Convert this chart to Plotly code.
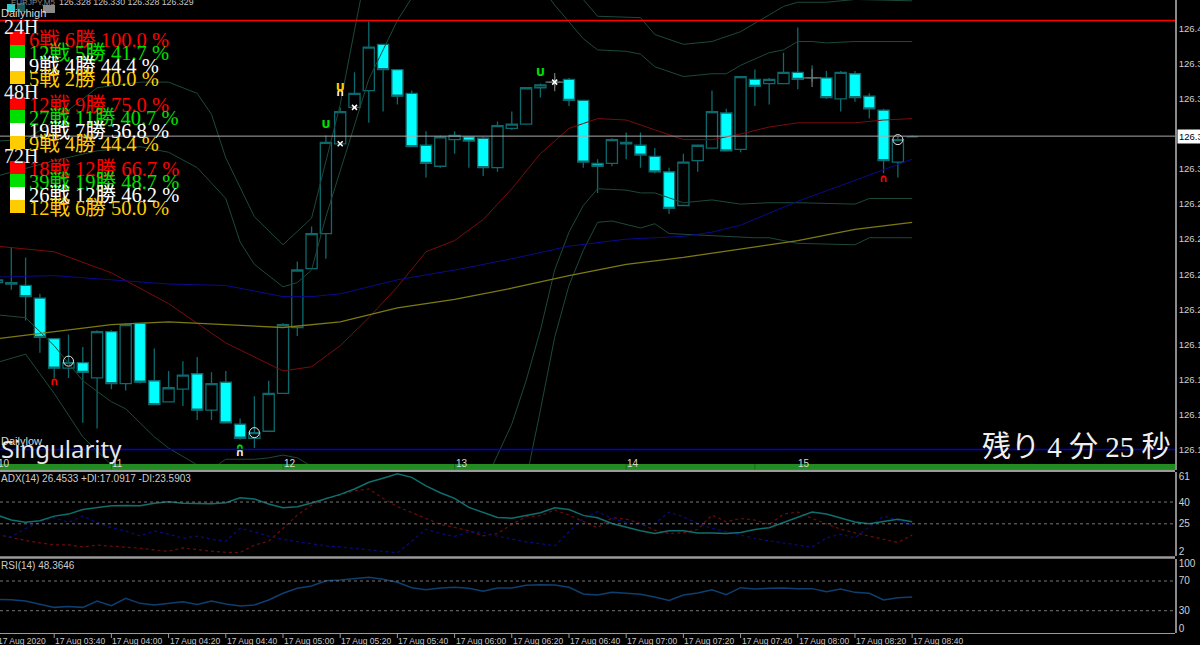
import plotly.graph_objects as go

W = 1200
H = 645

# bar values, one per 5 minute bar starting at 03:20
open_ = [126.219,126.219,126.217,126.208,126.179,126.158,126.162,126.151,126.184,126.147,126.190,126.149,126.134,126.143,126.154,126.128,126.148,126.118,126.108,126.113,126.140,126.187,126.229,126.254,126.318,126.344,126.356,126.389,126.371,126.354,126.317,126.302,126.321,126.323,126.322,126.301,126.329,126.332,126.358,126.362,126.364,126.349,126.304,126.304,126.319,126.317,126.309,126.298,126.274,126.306,126.315,126.340,126.314,126.364,126.361,126.361,126.369,126.365,126.365,126.350,126.368,126.352,126.342,126.305,126.323]
high = [126.222,126.244,126.237,126.211,126.179,126.182,126.173,126.185,126.185,126.190,126.190,126.172,126.156,126.163,126.166,126.155,126.156,126.122,126.138,126.149,126.190,126.234,126.259,126.324,126.344,126.369,126.406,126.389,126.371,126.356,126.327,126.324,126.327,126.323,126.323,126.334,126.341,126.358,126.361,126.366,126.365,126.349,126.307,126.322,126.326,126.326,126.315,126.301,126.311,126.317,126.356,126.343,126.366,126.371,126.365,126.383,126.401,126.374,126.370,126.370,126.370,126.354,126.343,126.323,126.324]
low = [126.217,126.214,126.192,126.169,126.151,126.151,126.119,126.115,126.143,126.142,126.147,126.132,126.134,126.131,126.121,126.121,126.119,126.107,126.101,126.113,126.140,126.181,126.229,126.236,126.318,126.344,126.333,126.341,126.346,126.316,126.294,126.301,126.311,126.301,126.295,126.298,126.328,126.332,126.351,126.358,126.345,126.301,126.283,126.302,126.307,126.301,126.297,126.268,126.274,126.298,126.315,126.313,126.312,126.345,126.346,126.361,126.357,126.362,126.350,126.341,126.348,126.336,126.297,126.294,126.323]
close = [126.221,126.218,126.209,126.180,126.158,126.162,126.155,126.184,126.147,126.189,126.148,126.132,126.144,126.153,126.128,126.147,126.119,126.108,126.112,126.140,126.189,126.228,126.254,126.319,126.341,126.354,126.387,126.371,126.352,126.316,126.304,126.323,126.324,126.320,126.301,126.331,126.332,126.358,126.360,126.362,126.349,126.305,126.302,126.321,126.318,126.310,126.298,126.272,126.305,126.317,126.341,126.313,126.366,126.359,126.364,126.369,126.364,126.365,126.351,126.369,126.351,126.343,126.306,126.321,126.323]
bar_no = list(range(len(close)))

# moving averages and bands, read at the bars where they bend
red_bars = [0,4,8,12,16,20,22,24,26,28,30,32,34,36,38,40,42,44,46,48,50,52,54,56,60,62,64]
red_ma = [126.245,126.241,126.226,126.204,126.176,126.156,126.159,126.174,126.194,126.216,126.241,126.249,126.264,126.286,126.311,126.329,126.336,126.335,126.328,126.321,126.321,126.325,126.330,126.333,126.333,126.335,126.336]
blue_bars = [0,4,8,12,16,18,20,22,24,28,32,36,40,44,48,50,52,56,60,64]
blue_ma = [126.223,126.224,126.221,126.218,126.217,126.213,126.209,126.209,126.211,126.221,126.228,126.236,126.245,126.250,126.252,126.255,126.260,126.277,126.292,126.307]
olive_bars = [0,4,8,12,16,20,24,28,32,36,40,44,48,52,56,60,64]
olive_ma = [126.179,126.184,126.189,126.191,126.189,126.187,126.191,126.201,126.207,126.215,126.224,126.232,126.237,126.243,126.249,126.257,126.262]

band_out_up_bars = [0,2,4,7,10,12,14,15,16,18,19,20,22,24,25,26,28,36,40,41,42,45,46,48,50,52,54,55,56,58,60,64]
band_out_up = [126.320,126.321,126.334,126.358,126.362,126.362,126.354,126.339,126.308,126.266,126.256,126.246,126.265,126.346,126.399,126.451,126.492,126.492,126.449,126.421,126.409,126.408,126.396,126.389,126.391,126.398,126.410,126.416,126.419,126.419,126.421,126.420]
band_in_up_bars = [0,4,7,10,12,14,16,17,18,20,21,22,23,24,25,26,28,29,30,36,38,39,40,41,42,44,45,46,48,50,51,52,54,55,56,57,58,60,64]
band_in_up = [126.295,126.306,126.313,126.316,126.312,126.301,126.279,126.248,126.232,126.216,126.219,126.228,126.266,126.299,126.331,126.364,126.406,126.422,126.435,126.463,126.431,126.417,126.405,126.393,126.385,126.384,126.382,126.373,126.366,126.368,126.368,126.374,126.383,126.385,126.391,126.391,126.390,126.391,126.391]
band_in_dn_bars = [0,2,4,6,8,9,11,12,14,15,16,18,19,20,21,22,24,28,32,34,35,36,37,38,39,40,41,42,44,45,46,48,50,52,54,56,60,61,64]
band_in_dn = [126.196,126.194,126.174,126.149,126.134,126.129,126.109,126.101,126.089,126.086,126.093,126.093,126.094,126.096,126.094,126.088,126.056,126.021,126.035,126.074,126.096,126.118,126.149,126.185,126.228,126.255,126.274,126.286,126.285,126.283,126.283,126.276,126.278,126.275,126.276,126.276,126.275,126.279,126.279]
band_out_dn_bars = [0,2,3,4,6,8,10,16,24,30,34,37,38,39,40,41,42,43,45,46,47,49,52,53,54,56,60,61,64]
band_out_dn = [126.162,126.168,126.154,126.140,126.109,126.089,126.056,125.992,125.964,125.964,125.992,126.078,126.128,126.180,126.217,126.242,126.262,126.263,126.258,126.261,126.254,126.253,126.251,126.251,126.251,126.247,126.246,126.251,126.251]

# ADX(14) pane
adx = [31.0,27.6,26.0,27.1,30.3,31.7,34.9,36.3,37.5,37.7,37.5,39.1,40.2,39.1,38.8,38.8,39.5,43.0,42.1,38.6,36.1,36.8,39.3,42.3,45.3,49.0,53.6,56.4,59.4,57.0,51.1,46.4,42.5,36.3,32.6,29.4,28.9,30.6,32.6,36.1,34.9,30.8,29.2,25.2,22.5,20.2,18.3,20.2,20.2,18.6,18.6,18.3,19.0,21.1,22.3,26.0,29.9,33.1,31.7,28.7,26.2,25.0,26.6,28.2,26.4]
plus_di = [17.6,15.3,13.5,11.9,10.5,10.5,9.1,10.3,9.6,9.1,8.2,7.0,6.1,8.4,7.0,6.1,5.4,5.2,10.3,13.0,21.8,31.0,37.9,42.5,44.8,47.8,49.0,42.5,36.8,32.9,28.7,24.6,22.5,20.2,16.7,18.3,24.6,29.9,30.6,34.5,31.0,26.4,22.3,29.2,28.2,25.2,20.6,18.3,18.8,21.1,31.0,26.4,28.7,27.6,24.6,31.7,33.1,28.7,25.2,21.3,18.8,16.5,14.4,12.1,17.2]
minus_di = [17.6,16.0,21.8,26.4,29.2,26.0,30.3,26.0,22.3,20.0,16.7,20.0,17.9,14.9,16.5,14.4,13.0,21.8,19.5,16.5,14.2,12.6,11.2,9.8,9.1,8.0,6.8,6.1,5.0,13.0,21.3,18.3,16.3,19.5,19.0,16.5,14.4,12.6,11.4,9.8,19.5,28.7,33.3,28.7,26.0,24.6,25.2,33.1,29.9,25.2,21.8,19.5,17.2,14.9,13.3,11.9,10.3,8.9,15.3,17.9,15.3,22.9,30.3,27.6,24.1]

# RSI(14) pane
rsi = [45.3,44.8,43.0,38.5,34.5,35.8,34.5,43.0,36.7,46.6,39.9,37.6,40.3,42.1,38.5,43.0,39.0,36.3,37.6,44.4,53.4,60.1,63.3,70.4,71.3,72.7,74.9,72.2,68.2,61.0,58.3,60.6,61.5,60.1,56.1,60.6,60.6,64.2,65.1,64.6,61.5,52.5,51.1,54.7,53.8,52.0,48.4,43.9,51.1,53.8,58.3,51.6,61.0,59.2,60.1,60.6,59.7,59.7,55.6,59.2,54.7,53.4,44.4,47.5,48.4]

# horizontal levels
day_high = 126.406
day_low = 126.100
last_price = 126.3235

# axis ticks
price_ticks = [126.400,126.375,126.350,126.300,126.275,126.250,126.225,126.200,126.175,126.150,126.125,126.100]
price_labels = ['126.4','126.3','126.3','126.3','126.2','126.2','126.2','126.2','126.1','126.1','126.1','126.1']
adx_ticks = [57.3,40,25,5.9]
adx_labels = ['61','40','25','2']
rsi_ticks = [93.3,70,30,6.7]
rsi_labels = ['100','70','30','0']
time_bars = list(range(4,65,4))
time_labels = ['17 Aug 03:40','17 Aug 04:00','17 Aug 04:20','17 Aug 04:40','17 Aug 05:00','17 Aug 05:20','17 Aug 05:40','17 Aug 06:00','17 Aug 06:20','17 Aug 06:40','17 Aug 07:00','17 Aug 07:20','17 Aug 07:40','17 Aug 08:00','17 Aug 08:20','17 Aug 08:40']
day_tick_bars = [8,20,32,44,53]
day_label_bars = [0.5,8.4,20.5,32.5,44.5,56.4]
day_labels = ['10','11','12','13','14','15']

# signal marks on the price pane
red_arc_bars = [4,62]
red_arc_prices = [126.148,126.293]
green_arc_bars = [17]
green_arc_prices = [126.101]
white_arc_bars = [17,24]
white_arc_prices = [126.097,126.354]
green_u_bars = [23,38]
green_u_prices = [126.331,126.368]
yellow_u_bars = [24]
yellow_u_prices = [126.358]
circle_bars = [5,18,63]
circle_prices = [126.163,126.112,126.321]
cross_bars = [24,25,39]
cross_prices = [126.318,126.344,126.362]
gray_cross_bars = [39,57]
gray_cross_prices = [126.362,126.365]

# win rate panel
panel_titles = ['24H','48H','72H']
panel_rows = [
    ['6戦 6勝 100.0 %','12戦 5勝 41.7 %','9戦 4勝 44.4 %','5戦 2勝 40.0 %'],
    ['12戦 9勝 75.0 %','27戦 11勝 40.7 %','19戦 7勝 36.8 %','9戦 4勝 44.4 %'],
    ['18戦 12勝 66.7 %','39戦 19勝 48.7 %','26戦 12勝 46.2 %','12戦 6勝 50.0 %'],
]
row_colors = ['#ff0000','#00e000','#ffffff','#ffcc00']
panel_tops = [32,97,161]


def px(x):
    return x / W


def py(y):
    return 1 - y / H


def label(text, x, y, size, color='#cccccc', font='Liberation Sans', anchor='left'):
    return dict(text=text, x=px(x), y=py(y), xref='paper', yref='paper', xanchor=anchor, yanchor='middle',
                showarrow=False, borderpad=0, font=dict(family=font, size=size, color=color))


def box(x0, y0, x1, y1, color):
    return dict(type='rect', xref='paper', yref='paper', x0=px(x0), x1=px(x1), y0=py(y0), y1=py(y1),
                fillcolor=color, line_width=0, layer='above')


def level(yref, value, color, width=1, dash='solid'):
    return dict(type='line', xref='x domain', yref=yref, x0=0, x1=1, y0=value, y1=value,
                line=dict(color=color, width=width, dash=dash))


def band_line(xs, ys, color, width=1, yaxis='y', dash='solid'):
    return go.Scatter(x=xs, y=ys, mode='lines', line=dict(color=color, width=width, dash=dash),
                      yaxis=yaxis, xaxis='x' if yaxis == 'y' else 'x' + yaxis[1:], showlegend=False, hoverinfo='skip')


def marks(xs, ys, text, color, size=11):
    return go.Scatter(x=xs, y=ys, mode='text', text=[text] * len(xs), showlegend=False, hoverinfo='skip',
                      textfont=dict(family='DejaVu Sans', size=size, color=color, weight='bold'))


fig = go.Figure()

band_color = '#1c4a3a'
fig.add_trace(band_line(band_out_up_bars, band_out_up, band_color))
fig.add_trace(band_line(band_in_up_bars, band_in_up, band_color))
fig.add_trace(band_line(band_in_dn_bars, band_in_dn, band_color))
fig.add_trace(band_line(band_out_dn_bars, band_out_dn, band_color))
fig.add_trace(band_line(red_bars, red_ma, '#7a0c0c'))
fig.add_trace(band_line(blue_bars, blue_ma, '#0a0a8c'))
fig.add_trace(band_line(olive_bars, olive_ma, '#7d7a10', 1.3))

wick = '#0c6a6e'
fig.add_trace(go.Candlestick(x=bar_no, open=open_, high=high, low=low, close=close, showlegend=False,
                             whiskerwidth=0, hoverinfo='skip',
                             increasing=dict(line=dict(color=wick, width=1.3), fillcolor='#000000'),
                             decreasing=dict(line=dict(color=wick, width=1.3), fillcolor='#00ffff')))

fig.add_trace(marks(red_arc_bars, red_arc_prices, '∩', '#ff0000'))
fig.add_trace(marks(green_arc_bars, green_arc_prices, '∩', '#00e000'))
fig.add_trace(marks(white_arc_bars, white_arc_prices, '∩', '#ffffff'))
fig.add_trace(marks(green_u_bars, green_u_prices, 'U', '#00e000'))
fig.add_trace(marks(yellow_u_bars, yellow_u_prices, 'U', '#ffcc00'))
fig.add_trace(go.Scatter(x=circle_bars, y=circle_prices, mode='markers', showlegend=False, hoverinfo='skip',
                         marker=dict(symbol='circle-open', size=10, color='#e8e8e8', line=dict(width=1))))
fig.add_trace(go.Scatter(x=gray_cross_bars, y=gray_cross_prices, mode='markers', showlegend=False, hoverinfo='skip',
                         marker=dict(symbol='cross-thin', size=13, line=dict(width=1.2, color='#777777'))))
fig.add_trace(go.Scatter(x=cross_bars, y=cross_prices, mode='markers', showlegend=False, hoverinfo='skip',
                         marker=dict(symbol='x-thin', size=5, color='#ffffff', line=dict(width=1.5, color='#ffffff'))))

fig.add_trace(band_line(bar_no, plus_di, '#6e0c0c', 1.2, 'y2', 'dot'))
fig.add_trace(band_line(bar_no, minus_di, '#0a0a80', 1.2, 'y2', 'dot'))
fig.add_trace(band_line(bar_no, adx, '#0e6f6f', 1.5, 'y2'))
fig.add_trace(band_line(bar_no, rsi, '#0d3f70', 1.5, 'y3'))

x_range = [0.21, 82.38]
x_common = dict(range=x_range, domain=[0, 1175 / W], showgrid=False, zeroline=False, showticklabels=False,
                ticks='', showline=False, fixedrange=True)
y_common = dict(side='right', showgrid=False, zeroline=False, showline=True, linecolor='#8a8a8a', linewidth=1.5,
                ticks='', tickmode='array', tickfont=dict(family='Liberation Sans', size=10, color='#d0d0d0'),
                fixedrange=True)

shapes = [
    level('y', day_high, '#ff0000', 1.5),
    level('y', day_low, '#0000d8', 1.5),
    level('y', last_price, '#a8a8a8', 1),
    level('y2', 40, '#777777', 1, 'dot'),
    level('y2', 25, '#777777', 1, 'dot'),
    level('y3', 70, '#777777', 1, 'dot'),
    level('y3', 30, '#777777', 1, 'dot'),
    box(0, 464, 1175, 469.5, '#228b22'),
    box(0, 469.5, 1175, 472, '#9a9a9a'),
    box(0, 556.2, 1175, 558.7, '#9a9a9a'),
    box(0, 633, 1175, 634, '#9a9a9a'),
    box(7, 4, 15, 12, '#30c8c8'),
    box(17, 3, 25, 12, '#1a5a5a'),
    box(43, 5, 55, 13, '#8a8a8a'),
]
for b in day_tick_bars:
    shapes.append(dict(type='line', xref='x', yref='paper', x0=b, x1=b, y0=py(464), y1=py(469.5),
                       line=dict(color='#1a6a1a', width=1), layer='above'))
for b in time_bars:
    shapes.append(dict(type='line', xref='x3', yref='paper', x0=b, x1=b, y0=py(634), y1=py(638),
                       line=dict(color='#9a9a9a', width=1)))

annotations = [
    label('EURJPY,M5', 10, 2, 8, '#888888'),
    label('126.328 126.330 126.328 126.329', 58, 2, 8.8, '#c8c8c8'),
    label('Dailyhigh', 0, 13, 11, '#d8d8d8'),
    label('Dailylow', 0, 441, 11, '#d8d8d8'),
    label('Singularity', 0, 449, 24, '#e8e8e8', 'Noto Sans'),
    label('残り 4 分 25 秒', 1172, 447, 29, '#f0f0f0', 'Liberation Serif, Noto Sans CJK JP', 'right'),
    label('ADX(14) 26.4533 +DI:17.0917 -DI:23.5903', 0, 478, 10),
    label('RSI(14) 48.3646', 0, 565, 10),
    label('17 Aug 2020', -3, 641, 8.5, '#c8c8c8'),
]

serif = 'Liberation Serif, Noto Sans CJK JP'
for title, rows, top in zip(panel_titles, panel_rows, panel_tops):
    annotations.append(label(title, 3, top - 5, 20, '#f0f0f0', serif))
    for n, (text, color) in enumerate(zip(rows, row_colors)):
        shapes.append(box(10, top + 13 * n, 25, top + 13 * (n + 1), color))
        annotations.append(label(text, 28, top + 8 + 12.9 * n, 20.5, color, serif))

for b, text in zip(time_bars, time_labels):
    annotations.append(dict(text=text, x=b, y=py(641), xref='x3', yref='paper', xanchor='left', yanchor='middle',
                            showarrow=False, borderpad=0, font=dict(family='Liberation Sans', size=8.5, color='#c8c8c8')))
for b, text in zip(day_label_bars, day_labels):
    annotations.append(dict(text=text, x=b, y=py(463.5), xref='x', yref='paper', xanchor='center', yanchor='middle',
                            showarrow=False, borderpad=0, font=dict(family='Liberation Sans', size=10, color='#d8d8d8')))
annotations.append(dict(text='126.3', x=px(1176.5), y=last_price, xref='paper', yref='y', xanchor='left', yanchor='middle',
                        showarrow=False, bgcolor='#ffffff', borderpad=1, font=dict(family='Liberation Sans', size=9.5, color='#000000')))

fig.update_layout(
    width=W, height=H, margin=dict(l=0, r=0, t=0, b=0, autoexpand=False), autosize=False,
    paper_bgcolor='#000000', plot_bgcolor='#000000', showlegend=False, boxgap=0.22, boxgroupgap=0, hovermode=False,
    shapes=shapes, annotations=annotations,
    xaxis=dict(x_common, anchor='y', rangeslider=dict(visible=False)),
    xaxis2=dict(x_common, anchor='y2'),
    xaxis3=dict(x_common, anchor='y3'),
    yaxis=dict(y_common, anchor='x', domain=[py(469.5), 1], range=[126.0857, 126.4206],
               tickvals=price_ticks, ticktext=price_labels,
               tickfont=dict(family='Liberation Sans', size=9.5, color='#d0d0d0')),
    yaxis2=dict(y_common, anchor='x2', domain=[py(556.2), py(472)], range=[2.68, 60.7],
                tickvals=adx_ticks, ticktext=adx_labels),
    yaxis3=dict(y_common, anchor='x3', domain=[py(633), py(558.7)], range=[0, 100],
                tickvals=rsi_ticks, ticktext=rsi_labels),
)

# the page has a default body margin, take it away so the chart fills the window
fig.write_html("out.html", config={'displayModeBar': False},
               post_script="document.body.style.margin='0';document.body.style.background='#000';")
